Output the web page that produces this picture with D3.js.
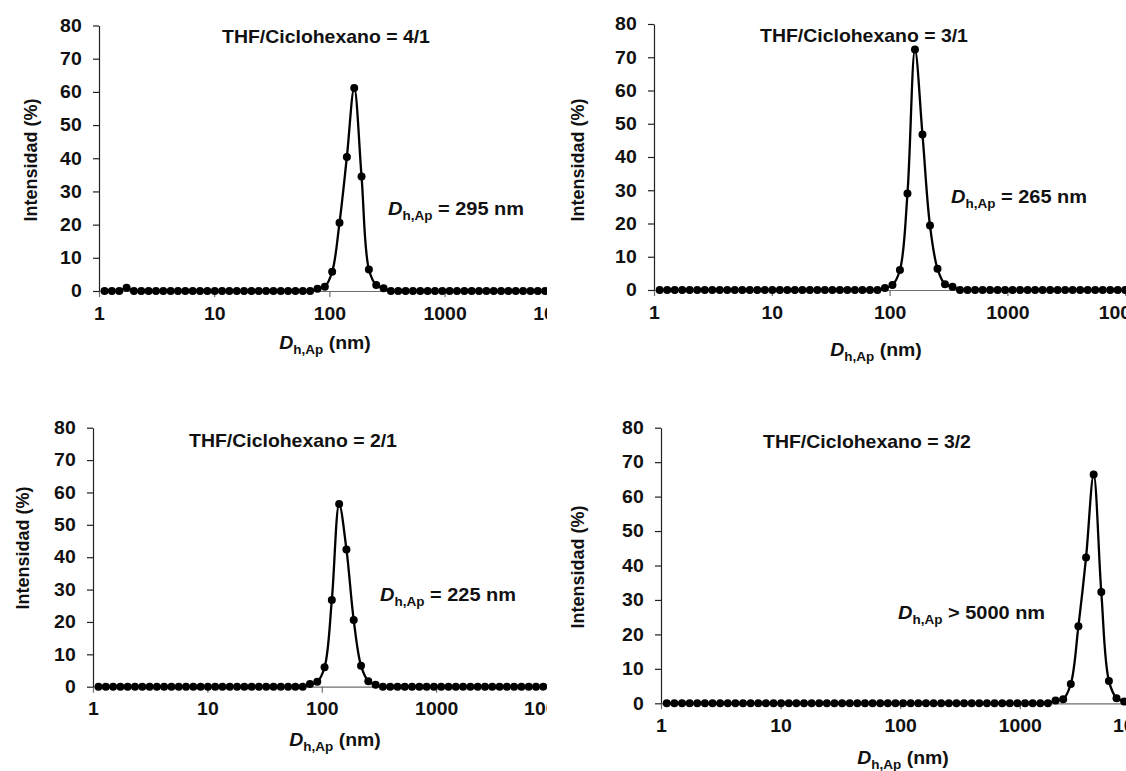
<!DOCTYPE html>
<html>
<head>
<meta charset="utf-8">
<script src="https://cdn.jsdelivr.net/npm/d3@7"></script>
<style>
  html, body { margin: 0; padding: 0; background: #fff; }
  svg { display: block; }
  text { font-family: 'Liberation Sans', Arial, sans-serif; font-weight: bold; fill: #111; }
</style>
</head>
<body>
<div id="container"></div>
<script>
//### DATA ###
// Hydrodynamic diameter classes (nm), shared by the four measurements
const sizesNm = [
  1.117, 1.294, 1.499, 1.736, 2.010, 2.328, 2.696, 3.122, 3.615, 4.187,
  4.849, 5.615, 6.503, 7.531, 8.721, 10.10, 11.70, 13.54, 15.69, 18.17,
  21.04, 24.36, 28.21, 32.67, 37.84, 43.82, 50.75, 58.77, 68.06, 78.82,
  91.28, 105.7, 122.4, 141.8, 164.2, 190.1, 220.2, 255.0, 295.3, 342.0,
  396.1, 458.7, 531.2, 615.1, 712.4, 825.0, 955.4, 1106, 1281, 1484,
  1718, 1990, 2305, 2669, 3091, 3580, 4145, 4801, 5560, 6439,
  7456, 8635, 10000
];

// Intensity (%) for THF/Ciclohexano = 4/1
const intensity41 = [
  0, 0, 0, 1.0, 0, 0, 0, 0, 0, 0,
  0, 0, 0, 0, 0, 0, 0, 0, 0, 0,
  0, 0, 0, 0, 0, 0, 0, 0, 0, 0.7,
  1.3, 5.8, 20.6, 40.4, 61.2, 34.5, 6.5, 1.8, 0.8, 0,
  0, 0, 0, 0, 0, 0, 0, 0, 0, 0,
  0, 0, 0, 0, 0, 0, 0, 0, 0, 0,
  0, 0, 0
];

// Intensity (%) for THF/Ciclohexano = 3/1
const intensity31 = [
  0, 0, 0, 0, 0, 0, 0, 0, 0, 0,
  0, 0, 0, 0, 0, 0, 0, 0, 0, 0,
  0, 0, 0, 0, 0, 0, 0, 0, 0, 0,
  0.6, 1.5, 6.0, 29.0, 72.3, 46.8, 19.4, 6.4, 1.7, 1.0,
  0, 0, 0, 0, 0, 0, 0, 0, 0, 0,
  0, 0, 0, 0, 0, 0, 0, 0, 0, 0,
  0, 0, 0
];

// Intensity (%) for THF/Ciclohexano = 2/1
const intensity21 = [
  0, 0, 0, 0, 0, 0, 0, 0, 0, 0,
  0, 0, 0, 0, 0, 0, 0, 0, 0, 0,
  0, 0, 0, 0, 0, 0, 0, 0, 0, 0.8,
  1.5, 6.0, 26.8, 56.4, 42.4, 20.6, 6.5, 1.7, 0.6, 0,
  0, 0, 0, 0, 0, 0, 0, 0, 0, 0,
  0, 0, 0, 0, 0, 0, 0, 0, 0, 0,
  0, 0, 0
];

// Intensity (%) for THF/Ciclohexano = 3/2
const intensity32 = [
  0, 0, 0, 0, 0, 0, 0, 0, 0, 0,
  0, 0, 0, 0, 0, 0, 0, 0, 0, 0,
  0, 0, 0, 0, 0, 0, 0, 0, 0, 0,
  0, 0, 0, 0, 0, 0, 0, 0, 0, 0,
  0, 0, 0, 0, 0, 0, 0, 0, 0, 0,
  0, 0.8, 1.2, 5.6, 22.4, 42.3, 66.4, 32.3, 6.5, 1.5,
  0.5, 0, 0
];

//>>> Texts and ticks:
const panelTitles = [ 'THF/Ciclohexano = 4/1', 'THF/Ciclohexano = 3/1', 'THF/Ciclohexano = 2/1', 'THF/Ciclohexano = 3/2' ];
const panelNotes = [ '= 295 nm', '= 265 nm', '= 225 nm', '> 5000 nm' ];
const xTicks = [ 1, 10, 100, 1000, 10000 ];
const yTicks = [ 0, 10, 20, 30, 40, 50, 60, 70, 80 ];
const yAxisTitle = 'Intensidad (%)';


//### LAYOUT ###
// One entry per panel: pixel geometry of the cropped Excel charts
const layout = [
  { x1: 99, decade: 115.2, y0: 291, yTop: 25.5, clip: [ 0, 0, 547, 385 ],
    title: [ 326, 37 ], note: [ 388, 209 ], xTitle: [ 325, 343 ], yTitle: [ 31, 160 ] },
  { x1: 654, decade: 117.8, y0: 290, yTop: 24, clip: [ 560, 0, 1126, 385 ],
    title: [ 864, 36 ], note: [ 951, 197 ], xTitle: [ 876, 350 ], yTitle: [ 578, 160 ] },
  { x1: 93, decade: 114.4, y0: 686.7, yTop: 427.7, clip: [ 0, 385, 547, 771 ],
    title: [ 293, 441 ], note: [ 380, 595 ], xTitle: [ 335, 740 ], yTitle: [ 23, 548 ] },
  { x1: 661, decade: 119.6, y0: 703.3, yTop: 427.7, clip: [ 560, 385, 1126, 771 ],
    title: [ 867, 442 ], note: [ 898, 613 ], xTitle: [ 903, 758 ], yTitle: [ 578, 567 ] }
];

const series = [ intensity41, intensity31, intensity21, intensity32 ];


//### CREATE THE VISUALIZATION ###
const width = 1126;
const height = 771;
const fontSize = 18;
const stretch = 1.08; //--- the scanned figure is slightly wider than tall

const svg = d3.select( '#container' )
  .append( 'svg' )
  .attr( 'width', width )
  .attr( 'height', height );

svg.append( 'rect' )
  .attr( 'width', width )
  .attr( 'height', height )
  .attr( 'fill', '#fff' );

//>>> Helper for the D_h,Ap label (italic D, subscript h,Ap):
function dLabel ( sel, rest ) {
  sel.append( 'tspan' ).style( 'font-style', 'italic' ).text( 'D' );
  sel.append( 'tspan' ).attr( 'dy', 5 ).style( 'font-size', '12.5px' ).text( 'h,Ap' );
  sel.append( 'tspan' ).attr( 'dy', -5 ).text( rest );
}

layout.forEach( ( L, i ) => {
  const values = series[ i ];

  //_____ CLIP (the panels are cropped in the original) _____
  svg.append( 'clipPath' )
    .attr( 'id', `clip-${i}` )
    .append( 'rect' )
    .attr( 'x', L.clip[ 0 ] )
    .attr( 'y', L.clip[ 1 ] )
    .attr( 'width', L.clip[ 2 ] - L.clip[ 0 ] )
    .attr( 'height', L.clip[ 3 ] - L.clip[ 1 ] );

  const g = svg.append( 'g' )
    .attr( 'clip-path', `url(#clip-${i})` );

  //_____ SCALES _____
  const xScale = d3.scaleLog()
    .domain( [ 1, 10000 ] )
    .range( [ L.x1, L.x1 + 4 * L.decade ] );

  const yScale = d3.scaleLinear()
    .domain( [ 0, 80 ] )
    .range( [ L.y0, L.yTop ] );

  //_____ AXES _____
  const xAxis = d3.axisBottom( xScale )
    .tickValues( xTicks )
    .tickFormat( d3.format( 'd' ) )
    .tickSize( 6 )
    .tickSizeOuter( 0 )
    .tickPadding( 10 );

  const yAxis = d3.axisLeft( yScale )
    .tickValues( yTicks )
    .tickSize( 6 )
    .tickSizeOuter( 0 )
    .tickPadding( 10 );

  const gx = g.append( 'g' )
    .attr( 'transform', `translate( 0, ${L.y0} )` )
    .call( xAxis );

  const gy = g.append( 'g' )
    .attr( 'transform', `translate( ${L.x1}, 0 )` )
    .call( yAxis );

  [ gx, gy ].forEach( ax => {
    ax.attr( 'font-family', null ).attr( 'font-size', null );
    ax.selectAll( 'text' )
      .style( 'font-size', fontSize + 'px' )
      .attr( 'fill', '#111' )
      .attr( 'transform', `scale( ${stretch}, 1 )` );
  } );
  gx.selectAll( 'path, line' ).attr( 'stroke', '#6e6e6e' ).attr( 'stroke-width', 1.2 );
  gy.selectAll( 'path, line' ).attr( 'stroke', '#222' ).attr( 'stroke-width', 1.2 );

  //_____ LINE AND MARKERS _____
  const points = sizesNm.map( ( s, j ) => ( { size: s, value: values[ j ] } ) );

  const line = d3.line()
    .x( d => xScale( d.size ) )
    .y( d => yScale( d.value ) )
    .curve( d3.curveCatmullRom.alpha( 0.5 ) );

  g.append( 'path' )
    .datum( points )
    .attr( 'fill', 'none' )
    .attr( 'stroke', '#000' )
    .attr( 'stroke-width', 2.3 )
    .attr( 'd', line );

  g.selectAll( '.dot' )
    .data( points )
    .enter().append( 'circle' )
    .attr( 'class', 'dot' )
    .attr( 'cx', d => xScale( d.size ) )
    .attr( 'cy', d => yScale( d.value ) )
    .attr( 'r', 4 )
    .attr( 'fill', '#000' );

  //_____ TEXTS _____
  //>>> Panel title:
  g.append( 'text' )
    .attr( 'transform', `translate( ${L.title[ 0 ]}, ${L.title[ 1 ]} ) scale( ${stretch}, 1 )` )
    .attr( 'dy', '0.35em' )
    .attr( 'text-anchor', 'middle' )
    .style( 'font-size', fontSize + 'px' )
    .text( panelTitles[ i ] );

  //>>> Annotation:
  g.append( 'text' )
    .attr( 'transform', `translate( ${L.note[ 0 ]}, ${L.note[ 1 ]} ) scale( ${stretch}, 1 )` )
    .attr( 'dy', '0.35em' )
    .style( 'font-size', '18.5px' )
    .call( dLabel, ' ' + panelNotes[ i ] );

  //>>> X-axis title:
  g.append( 'text' )
    .attr( 'transform', `translate( ${L.xTitle[ 0 ]}, ${L.xTitle[ 1 ]} ) scale( ${stretch}, 1 )` )
    .attr( 'dy', '0.35em' )
    .attr( 'text-anchor', 'middle' )
    .style( 'font-size', fontSize + 'px' )
    .call( dLabel, ' (nm)' );

  //>>> Y-axis title:
  g.append( 'text' )
    .attr( 'transform', `translate( ${L.yTitle[ 0 ]}, ${L.yTitle[ 1 ]} ) rotate( -90 )` )
    .attr( 'dy', '0.35em' )
    .attr( 'text-anchor', 'middle' )
    .style( 'font-size', fontSize + 'px' )
    .text( yAxisTitle );
} );
</script>
</body>
</html>
